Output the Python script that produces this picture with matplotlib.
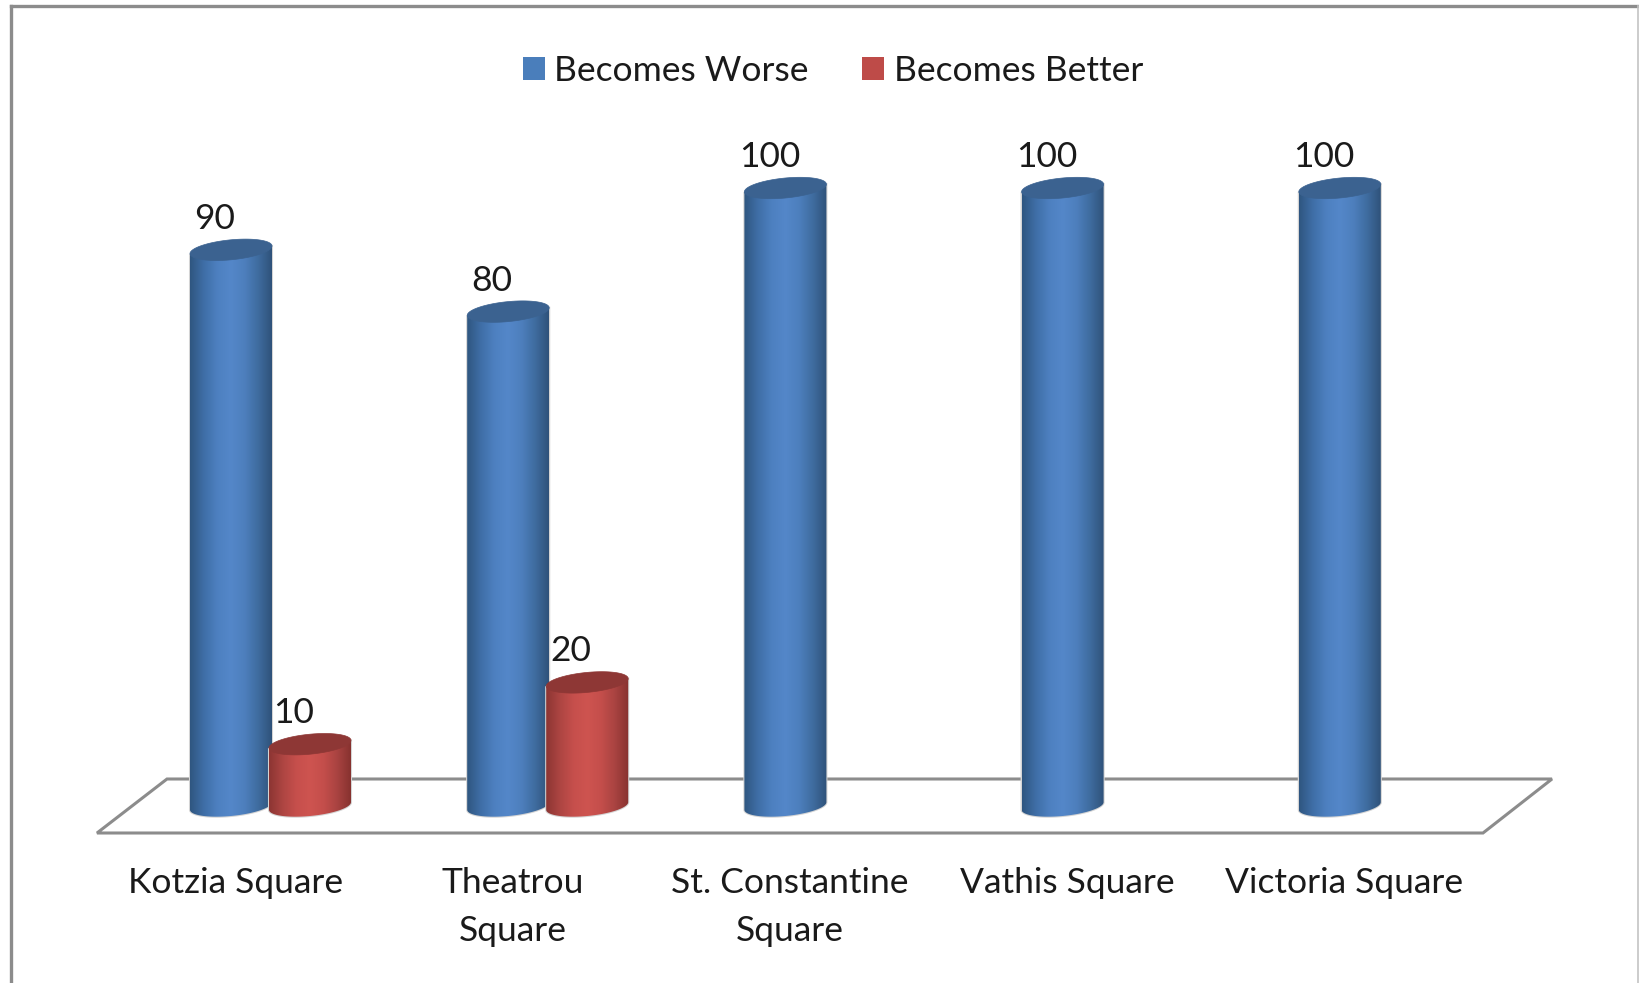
import numpy as np
import matplotlib
matplotlib.use('Agg')
import matplotlib.pyplot as plt
from matplotlib.colors import LinearSegmentedColormap
from matplotlib.lines import Line2D
from matplotlib.patches import Patch, PathPatch, Polygon
from matplotlib.path import Path

categories = ['Kotzia Square', 'Theatrou\nSquare', 'St. Constantine\nSquare', 'Vathis Square', 'Victoria Square']
worse = [90, 80, 100, 100, 100]
better = [10, 20, 0, 0, 0]

W, H = 1640, 983
plt.rcParams['font.family'] = ['Lato', 'DejaVu Sans']
TXT = '#1a1a1a'
FS = 25.5

blue_map = LinearSegmentedColormap.from_list('blue_cyl', ['#2f5680', '#3f6ea6', '#4d80c0', '#5487c9', '#4d7fbd', '#3f6c9f', '#2f527a'])
red_map = LinearSegmentedColormap.from_list('red_cyl', ['#8c3533', '#ad4542', '#c64f4c', '#ce5450', '#c44e4b', '#a94341', '#87322f'])

fig = plt.figure(figsize=(W / 100, H / 100), dpi=100, facecolor='white')
# axes box: category band on the front edge of the floor, 0 to 100 on the value scale
x0, x1, y0, y100 = 97, 1483, 806, 188
ax = fig.add_axes([x0 / W, 1 - y0 / H, (x1 - x0) / W, (y0 - y100) / H])
ax.patch.set_alpha(0)
xlim = (-0.5, 4.5)
ylim = (0, 100)

px_x = (xlim[1] - xlim[0]) / (x1 - x0)
px_y = (ylim[1] - ylim[0]) / (y0 - y100)
x = np.arange(len(categories))
bar_w = 82 * px_x


def ring(cx, y, half, t):
    # slanted ellipse, right end sits higher than the left one
    return np.column_stack([cx + half * np.cos(t), y + (3.8 * np.cos(t) + 10 * np.sin(t)) * px_y])


def cylinder(rect, cmap, top_color, z):
    if rect.get_height() <= 0:
        return
    cx = rect.get_x() + rect.get_width() / 2
    half = rect.get_width() / 2
    top = rect.get_height()
    lower = ring(cx, 0, half, np.linspace(np.pi, 2 * np.pi, 60))
    pts = np.vstack([ring(cx, top, half, np.array([np.pi])), lower, ring(cx, top, half, np.array([0.0]))])
    pts = np.vstack([pts, pts[0]])
    body = Path(pts)
    ax.add_patch(PathPatch(body, facecolor='none', edgecolor='#d4d4d4', lw=1.5, zorder=z - 0.2, clip_on=False))
    im = ax.imshow(np.linspace(0, 1, 256).reshape(1, -1), cmap=cmap, aspect='auto',
                   extent=[cx - half, cx + half, pts[:, 1].min(), top + 3], zorder=z)
    clip = PathPatch(body, transform=ax.transData, facecolor='none', edgecolor='none')
    ax.add_patch(clip)
    # the base of the cylinder hangs below the axes box
    im.set_clip_box(fig.bbox)
    im.set_clip_path(clip)
    ax.add_patch(Polygon(ring(cx, top, half, np.linspace(0, 2 * np.pi, 100)), closed=True,
                         facecolor=top_color, edgecolor=top_color, lw=0.5, zorder=z + 0.1, clip_on=False))


bars_worse = ax.bar(x - 4.6 * px_x, worse, bar_w, facecolor='none', edgecolor='none')
bars_better = ax.bar(x - 4.6 * px_x + 79 * px_x, better, bar_w, facecolor='none', edgecolor='none')

for rect in bars_worse:
    cylinder(rect, blue_map, '#3b6290', 3)
for rect in bars_better:
    cylinder(rect, red_map, '#8e3735', 4)

for bars, vals in ((bars_worse, worse), (bars_better, better)):
    for rect, v in zip(bars, vals):
        if v > 0:
            ax.text(rect.get_x() + rect.get_width() / 2 - 16 * px_x, v + 31 * px_y, str(v), ha='center', va='center',
                    fontsize=FS, color=TXT, zorder=6)

ax.set_xlim(*xlim)
ax.set_ylim(*ylim)
ax.set_yticks([])
ax.set_xticks(x)
ax.set_xticklabels(categories, fontsize=FS, color=TXT, linespacing=1.6)
ax.tick_params(axis='x', length=0, pad=44)
for s in ax.spines.values():
    s.set_visible(False)

# floor of the 3d box
floor = np.array([[97, 833], [1483, 833], [1552, 779], [167, 779]]) / [W, H]
floor[:, 1] = 1 - floor[:, 1]
fig.add_artist(Polygon(floor, closed=True, facecolor='white', edgecolor='#8c8c8c', lw=2.2,
                       transform=fig.transFigure, zorder=-1))
ax.set_zorder(1)

handles = [Patch(facecolor='#4a7ebb', label='Becomes Worse'), Patch(facecolor='#be4b48', label='Becomes Better')]
fig.legend(handles=handles, loc='center', bbox_to_anchor=(833 / W, 1 - 71 / H), ncol=2, frameon=False, fontsize=FS,
           labelcolor=TXT, handlelength=0.62, handleheight=0.62, handletextpad=0.27, columnspacing=1.5)

# chart frame
for xs, ys, c, lw in (([11, 11], [983, 6], '#8c8c8c', 2.4), ([11, 1640], [6, 6], '#8c8c8c', 2.4),
                      ([1638, 1638], [6, 983], '#c4c4c4', 1.2)):
    fig.add_artist(Line2D(np.array(xs) / W, 1 - np.array(ys) / H, color=c, lw=lw, transform=fig.transFigure))

fig.savefig('out.png', dpi=100)
